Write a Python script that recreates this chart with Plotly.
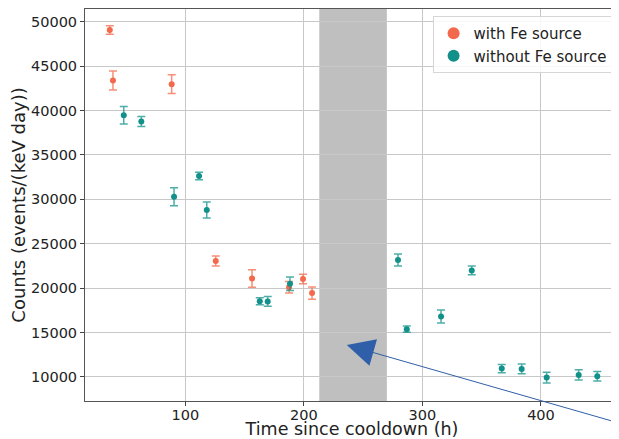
import plotly.graph_objects as go

# with Fe source
fe_time = [36.3, 39.0, 88.5, 125.7, 156.3, 187.5, 199.3, 206.9]
fe_counts = [49060, 43390, 42970, 23050, 21080, 20100, 21020, 19440]
fe_err = [480, 1070, 1050, 560, 980, 650, 540, 700]

# without Fe source
nofe_time = [48.1, 62.9, 90.5, 111.6, 118.1, 162.8, 169.5, 188.3,
             279.4, 286.8, 315.7, 341.6, 366.9, 383.7, 404.8, 431.8, 447.5]
nofe_counts = [39470, 38760, 30300, 32630, 28800, 18530, 18500, 20490,
               23160, 15380, 16810, 21990, 10940, 10900, 9930, 10230, 10080]
nofe_err = [980, 560, 1015, 415, 900, 395, 545, 770,
            680, 360, 730, 490, 470, 545, 600, 565, 525]

# shaded gap and arrow annotation
gap_start, gap_end = 213, 270
arrow_tip = (236.2, 13600)

x_ticks = [100, 200, 300, 400]
y_ticks = [10000, 15000, 20000, 25000, 30000, 35000, 40000, 45000, 50000]

ORANGE = "#f26a4b"
TEAL = "#12918a"

fig = go.Figure()
fig.add_trace(go.Scatter(
    x=fe_time, y=fe_counts, mode="markers", name="with Fe source",
    marker=dict(color=ORANGE, size=6),
    error_y=dict(type="data", array=fe_err, color="rgba(242,106,75,0.75)",
                 thickness=1.5, width=4),
))
fig.add_trace(go.Scatter(
    x=nofe_time, y=nofe_counts, mode="markers", name="without Fe source",
    marker=dict(color=TEAL, size=6),
    error_y=dict(type="data", array=nofe_err, color="rgba(18,145,138,0.75)",
                 thickness=1.5, width=4),
))

fig.add_shape(type="rect", xref="x", yref="paper", x0=gap_start, x1=gap_end,
              y0=0, y1=1, fillcolor="#bfbfbf", line=dict(width=0), layer="between")

fig.add_annotation(
    x=arrow_tip[0], y=arrow_tip[1], xref="x", yref="y",
    ax=272, ay=78, axref="pixel", ayref="pixel",
    text="", showarrow=True, arrowhead=2, arrowsize=5.5, arrowwidth=1,
    arrowcolor="#2f5fa8",
)

fig.update_layout(
    width=611, height=431,
    margin=dict(l=77, r=0, t=1, b=38, autoexpand=False),
    paper_bgcolor="white", plot_bgcolor="white",
    font=dict(family="DejaVu Sans", size=14.5, color="#222222"),
    showlegend=True,
    legend=dict(
        x=0.988, y=0.982, xanchor="right", yanchor="top",
        bgcolor="rgba(255,255,255,0.85)", bordercolor="#d6d6d6", borderwidth=1,
        font=dict(size=15), itemsizing="constant", itemwidth=30,
        tracegroupgap=0,
    ),
    xaxis=dict(
        range=[15.4, 465.8], tickvals=x_ticks, ticks="outside", ticklen=4,
        tickcolor="#444", showgrid=True, gridcolor="#c8c8c8", gridwidth=1,
        showline=True, linecolor="#555", linewidth=1, mirror=True,
        zeroline=False, automargin=False, ticklabelstandoff=-3,
        title=dict(text="Time since cooldown (h)", font=dict(size=17.5), standoff=6),
    ),
    yaxis=dict(
        range=[7290, 51430], tickvals=y_ticks, ticks="outside", ticklen=4,
        tickcolor="#444", showgrid=True, gridcolor="#c8c8c8", gridwidth=1,
        showline=True, linecolor="#555", linewidth=1,
        zeroline=False, tickformat="d", automargin=False,
        title=dict(text="Counts (events/(keV day))", font=dict(size=18), standoff=4),
    ),
)

fig.write_html("out.html")
